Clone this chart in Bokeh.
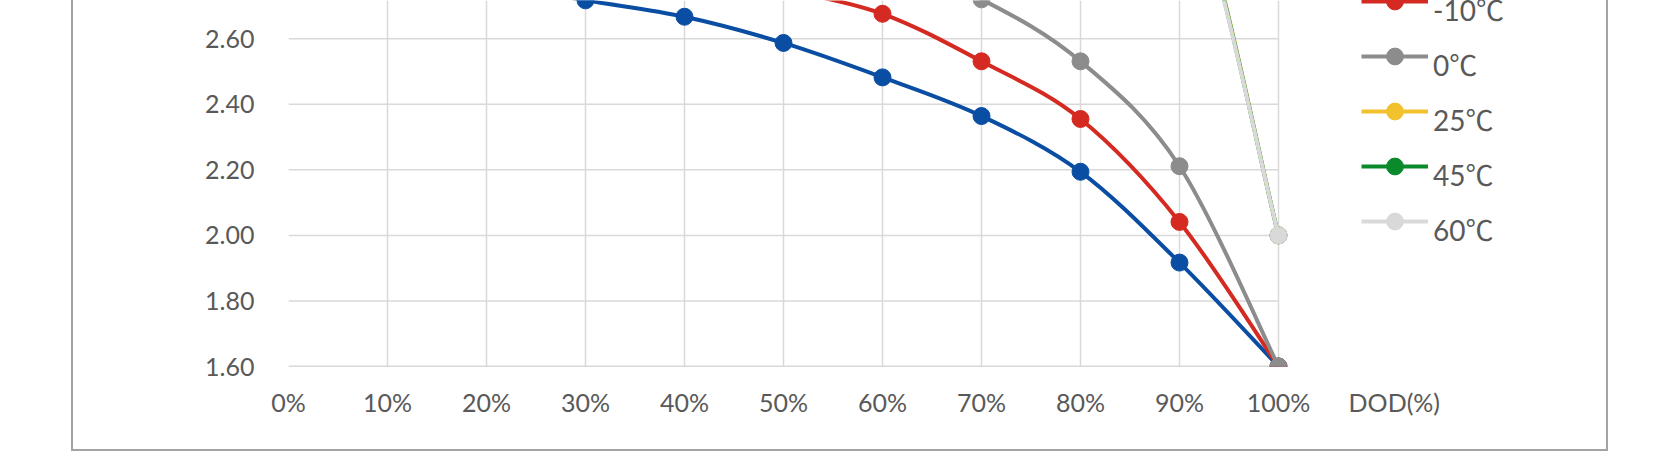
from bokeh.plotting import figure
from bokeh.models import (Range1d, FixedTicker, NumeralTickFormatter, Legend,
                          LegendItem, ColumnDataSource)
from bokeh.embed import file_html
from bokeh.resources import INLINE

# ---------------- data ----------------
dod = [0.0, 0.1, 0.2, 0.3, 0.4, 0.5, 0.6, 0.7, 0.8, 0.9, 1.0]
x_labels = ["0%", "10%", "20%", "30%", "40%", "50%", "60%", "70%", "80%", "90%", "100%"]
y_ticks = [1.60, 1.80, 2.00, 2.20, 2.40, 2.60, 2.80, 3.00, 3.20, 3.40, 3.60]
x_title = "DOD(%)"
x_title_pos = 1.117          # axis position of the "DOD(%)" caption

names = ["-20℃", "-10℃", "0℃", "25℃", "45℃", "60℃"]
v_m20 = [2.95, 2.84, 2.77, 2.717, 2.667, 2.587, 2.482, 2.364, 2.194, 1.917, 1.60]
v_m10 = [3.05, 2.95, 2.90, 2.86, 2.81, 2.75, 2.676, 2.531, 2.355, 2.041, 1.60]
v_0 = [3.15, 3.07, 3.03, 3.00, 2.96, 2.91, 2.84, 2.72, 2.531, 2.211, 1.60]
v_25 = [3.40, 3.30, 3.28, 3.27, 3.26, 3.25, 3.24, 3.22, 3.20, 3.17, 2.00]
v_45 = [3.41, 3.31, 3.29, 3.28, 3.27, 3.26, 3.25, 3.23, 3.21, 3.165, 2.00]
v_60 = [3.42, 3.32, 3.30, 3.29, 3.28, 3.27, 3.26, 3.24, 3.22, 3.16, 2.00]
colors = ["#0a4ea3", "#d42a21", "#8c8c8c", "#f2c12e", "#0b8a2c", "#d9d9d9"]
values = [v_m20, v_m10, v_0, v_25, v_45, v_60]

FONT = "Lato, Noto Sans CJK SC"
BORDER = "2px solid #a3a3a3"

PX_PER_X = 990.0     # pixels for 0..100 %
PX_PER_V = 327.8     # pixels per volt
W, H = 1537, 451
LEFT = 215
FRAME_W, FRAME_H = W - LEFT, 366

p = figure(width=W, height=H, output_backend="svg", toolbar_location=None,
           min_border_left=LEFT, min_border_right=0, min_border_top=0,
           min_border_bottom=H - FRAME_H,
           x_range=Range1d(0, FRAME_W / PX_PER_X),
           y_range=Range1d(1.60, 1.60 + FRAME_H / PX_PER_V))
p.margin = (0, 0, 0, 71)
p.styles = {"border-left": BORDER, "border-right": BORDER, "border-bottom": BORDER}
p.outline_line_color = None
p.background_fill_color = "white"
p.border_fill_color = "white"

# vertical grid from the library, horizontal grid limited to 0..100 %
p.xgrid.ticker = FixedTicker(ticks=dod)
p.xgrid.grid_line_color = "#d9d9d9"
p.xgrid.grid_line_width = 1.5
p.ygrid.visible = False
p.segment(x0=[dod[0]] * len(y_ticks), x1=[dod[-1]] * len(y_ticks),
          y0=y_ticks, y1=y_ticks, line_color="#d9d9d9", line_width=1.5)
p.segment(x0=[dod[0]], x1=[dod[-1]], y0=[y_ticks[0]], y1=[y_ticks[0]],
          line_color="#c8c8c8", line_width=1.5)

# axes
p.xaxis.ticker = FixedTicker(ticks=dod + [x_title_pos])
p.xaxis.major_label_overrides = dict(list(zip(dod, x_labels)) + [(x_title_pos, x_title)])
p.xaxis.axis_line_color = None
p.xaxis.major_tick_line_color = None
p.xaxis.minor_tick_line_color = None
p.xaxis.major_label_standoff = 14
p.xaxis.major_label_text_font = FONT
p.xaxis.major_label_text_font_size = "25px"
p.xaxis.major_label_text_color = "#595959"

p.yaxis.ticker = FixedTicker(ticks=y_ticks)
p.yaxis.formatter = NumeralTickFormatter(format="0.00")
p.yaxis.axis_line_color = None
p.yaxis.major_tick_line_color = None
p.yaxis.minor_tick_line_color = None
p.yaxis.major_label_standoff = 28
p.yaxis.major_label_text_font = FONT
p.yaxis.major_label_text_font_size = "25px"
p.yaxis.major_label_text_color = "#595959"


def smooth_segments(xs, ys):
    """Cubic Bezier control points (Excel-like smoothing) through the points."""
    n = len(xs)
    out = {k: [] for k in ("x0", "y0", "x1", "y1", "cx0", "cy0", "cx1", "cy1")}
    for i in range(n - 1):
        i0 = max(i - 1, 0)
        i3 = min(i + 2, n - 1)
        out["x0"].append(xs[i]); out["y0"].append(ys[i])
        out["x1"].append(xs[i + 1]); out["y1"].append(ys[i + 1])
        out["cx0"].append(xs[i] + (xs[i + 1] - xs[i0]) / 6)
        out["cy0"].append(ys[i] + (ys[i + 1] - ys[i0]) / 6)
        out["cx1"].append(xs[i + 1] - (xs[i3] - xs[i]) / 6)
        out["cy1"].append(ys[i + 1] - (ys[i3] - ys[i]) / 6)
    return out


glyph_items, text_items = [], []
for k, (name, vals, col) in enumerate(zip(names, values, colors)):
    seg = ColumnDataSource(smooth_segments(dod, vals))
    curve = p.bezier(x0="x0", y0="y0", x1="x1", y1="y1", cx0="cx0", cy0="cy0",
                     cx1="cx1", cy1="cy1", source=seg, line_color=col, line_width=4)
    pts = p.scatter(x=dod, y=vals, marker="circle", size=17,
                    fill_color=col, line_color=col, line_width=1)
    blank = p.line(x=[], y=[], line_color=col)   # draws nothing in the legend
    if k > 0:   # the first entry lies above the visible part of the chart
        glyph_items.append(LegendItem(label="", renderers=[curve, pts]))
        text_items.append(LegendItem(label=name, renderers=[blank]))

common = dict(orientation="vertical", glyph_width=67, glyph_height=42,
              label_height=36, spacing=13, label_standoff=5, padding=0, margin=0,
              border_line_color=None, background_fill_alpha=0,
              label_text_font=FONT, label_text_font_size="28px",
              label_text_color="#595959")
p.add_layout(Legend(items=glyph_items, location=(1073, 124), **common))
p.add_layout(Legend(items=text_items, location=(1073, 116), **common))

open("out.html", "w").write(file_html(p, INLINE))
